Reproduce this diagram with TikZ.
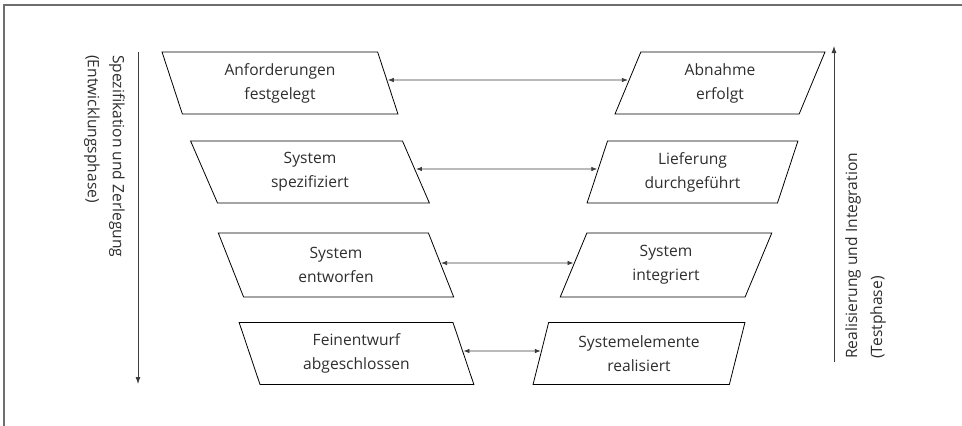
\documentclass[tikz,border=0pt]{standalone}
\usepackage{fontspec}
\setmainfont{Open Sans}
\usetikzlibrary{shapes.geometric,arrows.meta}
\definecolor{framegray}{HTML}{6E6E6E}
\definecolor{arrowgray}{HTML}{3C3C3C}
\definecolor{textgray}{HTML}{2E2E2E}
\tikzset{
  box/.style={trapezium, draw=black, line width=0.8pt, trapezium stretches=true,
    minimum height=62pt, align=center, inner sep=0pt, outer sep=0pt,
    font=\fontsize{15.6}{24}\selectfont, text=textgray},
  lbox/.style={box, trapezium left angle=106.2, trapezium right angle=73.8},
  rbox/.style={box, trapezium left angle=73.8, trapezium right angle=106.2},
  link/.style={draw=arrowgray, line width=0.8pt,
    {Latex[length=6pt,width=4.5pt]}-{Latex[length=6pt,width=4.5pt]}},
  sidearrow/.style={draw=arrowgray, line width=0.8pt, -{Latex[length=7pt,width=5pt]}},
  sidelabel/.style={align=left, inner sep=0pt, font=\fontsize{15.6}{25}\selectfont, text=textgray},
  frameline/.style={draw=framegray, line width=2pt}
}
\begin{document}
\begin{tikzpicture}[x=1pt,y=-1pt]
\useasboundingbox (0,0) rectangle (962,426);
% frame
\coordinate (f1) at (962,4.5);
\coordinate (f2) at (4,4.5);
\coordinate (f3) at (4,426);
\draw[frameline] (f1) -- (f2) -- (f3);
% boxes
\node[lbox, minimum width=236pt] (L1) at (280,83) {Anforderungen\\festgelegt};
\node[rbox, minimum width=212pt] (R1) at (720,83) {Abnahme\\erfolgt};
\node[lbox, minimum width=240pt] (L2) at (310,172) {System\\spezifiziert};
\node[rbox, minimum width=211pt] (R2) at (692.5,172) {Lieferung\\durchgeführt};
\node[lbox, minimum width=236pt, minimum height=64pt] (L3) at (336,265) {System\\entworfen};
\node[rbox, minimum width=212pt, minimum height=64pt] (R3) at (666,265) {System\\integriert};
\node[lbox, minimum width=235pt] (L4) at (356.5,353.5) {Feinentwurf\\abgeschlossen};
\node[rbox, minimum width=212pt] (R4) at (639,353.5) {Systemelemente\\realisiert};
% horizontal links
\draw[link] ([yshift=3pt]L1.east) -- ([yshift=3pt]R1.west);
\draw[link] ([yshift=3pt]L2.east) -- ([yshift=3pt]R2.west);
\draw[link] ([yshift=2pt]L3.east) -- ([yshift=2pt]R3.west);
\draw[link] ([yshift=2.5pt]L4.east) -- ([yshift=2.5pt]R4.west);
% side arrows
\coordinate (ltop) at (138,52);
\coordinate (lbot) at (138,384);
\draw[sidearrow] (ltop) -- (lbot);
\coordinate (rbot) at (834,362);
\coordinate (rtop) at (834,46);
\draw[sidearrow] (rbot) -- (rtop);
% side labels
\node[sidelabel, rotate=-90, anchor=north west] (lab1) at (125,55) {Spezifikation und Zerlegung\\(Entwicklungsphase)};
\node[sidelabel, rotate=90, anchor=north west] (lab2) at (845,359) {Realisierung und Integration\\(Testphase)};
\end{tikzpicture}
\end{document}
